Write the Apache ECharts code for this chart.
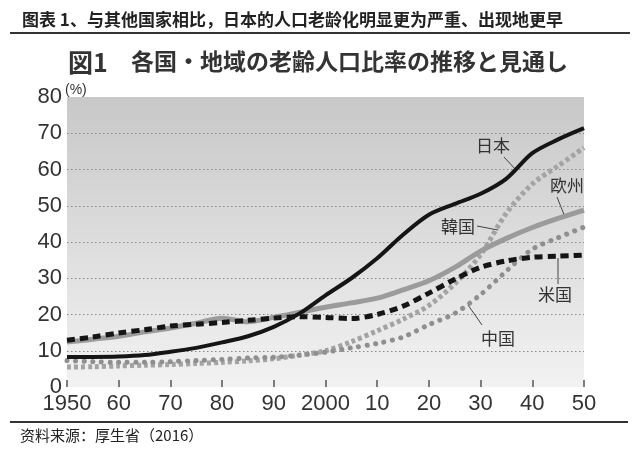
<!DOCTYPE html>
<html><head><meta charset="utf-8">
<script src="https://cdn.jsdelivr.net/npm/echarts@6/dist/echarts.min.js"></script>
<style>html,body{margin:0;padding:0;background:#fff}#c{width:640px;height:451px}</style>
</head><body><div id="c"></div>
<script>
const years = [1950,1955,1960,1965,1970,1975,1980,1985,1990,1995,2000,2005,2010,2015,2020,2025,2030,2035,2040,2045,2050];
const japan  = [8.3,8.3,8.4,8.8,9.7,10.8,12.3,14.0,16.6,20.3,25.3,30.0,35.5,42.0,47.5,50.5,53.3,57.5,64.5,68.3,71.4];
const europe = [12.4,13.2,14.0,15.2,16.3,17.6,19.0,18.0,19.2,20.6,22.0,23.2,24.5,26.8,29.3,33.0,37.5,41.0,44.0,46.5,48.8];
const usa    = [12.9,13.8,14.9,15.8,16.8,17.3,17.8,18.4,19.0,19.4,19.2,18.9,20.0,22.3,25.9,29.7,33.0,34.8,35.8,36.1,36.4];
const korea  = [5.5,5.6,5.8,6.0,6.2,6.5,6.8,7.2,7.8,8.8,10.0,12.5,15.5,18.7,22.5,28.5,36.5,48.0,56.0,61.0,66.0];
const china  = [7.3,7.0,6.8,6.8,7.0,7.3,7.6,8.0,8.2,8.8,9.6,10.8,12.0,13.8,17.2,20.3,25.5,32.0,38.0,41.2,44.1];
const xTickValues = [1950,1960,1970,1980,1990,2000,2010,2020,2030,2040,2050];
const xTickLabels = ['1950','60','70','80','90','2000','10','20','30','40','50'];
const yTickLabels = ['0','10','20','30','40','50','60','70','80'];
const seriesNames = ['日本','欧州','米国','韓国','中国'];

const pair = arr => years.map((y,i)=>[y,arr[i]]);
const chart = echarts.init(document.getElementById('c'), null, {renderer:'canvas'});
const lbl = {fontFamily:'"Noto Sans CJK JP"', fontSize:17, fill:'#333'};
const ln = {stroke:'#444', lineWidth:1};
chart.setOption({
  animation:false,
  backgroundColor:'#fff',
  grid:{left:67,right:56,top:97,bottom:64,show:true,borderWidth:0,
    backgroundColor:{type:'linear',x:0,y:0,x2:0,y2:1,colorStops:[{offset:0,color:'#c8c8c8'},{offset:1,color:'#f2f2f2'}]}},
  xAxis:{type:'value',min:1950,max:2050,interval:10,
    axisLine:{show:false},
    axisTick:{show:true,inside:true,length:7,lineStyle:{color:'#555',width:1.5}},
    splitLine:{show:false},
    axisLabel:{margin:6,color:'#333',fontSize:22,fontFamily:'"Liberation Sans", Arial',
      formatter:v=>{const i=xTickValues.indexOf(v);return i>=0?xTickLabels[i]:'';}}},
  yAxis:{type:'value',min:0,max:80,interval:10,
    axisLine:{show:false},axisTick:{show:false},
    splitLine:{show:true,showMinLine:false,showMaxLine:false,lineStyle:{color:'#8a8a8a',type:[1.5,2.5],width:1}},
    axisLabel:{margin:5,color:'#333',fontSize:22,fontFamily:'"Liberation Sans", Arial',
      formatter:v=>yTickLabels[Math.round(v/10)]}},
  series:[
    {name:seriesNames[3],type:'line',data:pair(korea),smooth:0.3,symbol:'none',
      lineStyle:{color:'#a3a3a3',width:5,type:[4,3]}},
    {name:seriesNames[4],type:'line',data:pair(china),smooth:0.3,symbol:'none',
      lineStyle:{color:'#8f8f8f',width:5,type:[0.1,8.5],cap:'round'}},
    {name:seriesNames[1],type:'line',data:pair(europe),smooth:0.3,symbol:'none',
      lineStyle:{color:'#9b9b9b',width:5}},
    {name:seriesNames[2],type:'line',data:pair(usa),smooth:0.3,symbol:'none',
      lineStyle:{color:'#151515',width:5,type:[8,5]}},
    {name:seriesNames[0],type:'line',data:pair(japan),smooth:0.3,symbol:'none',
      lineStyle:{color:'#151515',width:4}}
  ],
  graphic:[
    {type:'text',left:22,top:11,style:{text:'图表 1、与其他国家相比，日本的人口老龄化明显更为严重、出现地更早',fontFamily:'"Noto Sans CJK SC"',fontSize:17,fill:'#222',fontWeight:'bold'}},
    {type:'line',shape:{x1:10,y1:33,x2:630,y2:33},style:{stroke:'#333',lineWidth:2}},
    {type:'text',left:68,top:50,style:{text:'図1',fontFamily:'"Noto Sans CJK JP"',fontSize:25,fontWeight:'bold',fill:'#333'}},
    {type:'text',left:131,top:50,style:{text:'各国・地域の老齢人口比率の推移と見通し',fontFamily:'"Noto Sans CJK JP"',fontSize:23,fontWeight:'bold',fill:'#333'}},
    {type:'text',left:65,top:83,style:{text:'(%)',fontFamily:'"Liberation Sans", Arial',fontSize:14,fill:'#333'}},
    {type:'text',x:493,y:146,style:Object.assign({text:seriesNames[0],align:'center',verticalAlign:'middle'},lbl)},
    {type:'line',shape:{x1:504,y1:157,x2:516,y2:170},style:ln},
    {type:'text',x:567,y:186,style:Object.assign({text:seriesNames[1],align:'center',verticalAlign:'middle'},lbl)},
    {type:'line',shape:{x1:557,y1:197,x2:565,y2:217},style:ln},
    {type:'text',x:458,y:227,style:Object.assign({text:seriesNames[3],align:'center',verticalAlign:'middle'},lbl)},
    {type:'line',shape:{x1:477,y1:226,x2:498,y2:230},style:ln},
    {type:'text',x:555,y:295,style:Object.assign({text:seriesNames[2],align:'center',verticalAlign:'middle'},lbl)},
    {type:'line',shape:{x1:558,y1:258,x2:558,y2:284},style:ln},
    {type:'text',x:498,y:339,style:Object.assign({text:seriesNames[4],align:'center',verticalAlign:'middle'},lbl)},
    {type:'line',shape:{x1:468,y1:305,x2:482,y2:325},style:ln},
    {type:'line',shape:{x1:10,y1:422,x2:628,y2:422},style:{stroke:'#333',lineWidth:2}},
    {type:'text',left:20,top:428,style:{text:'资料来源：厚生省（2016）',fontFamily:'"Noto Sans CJK SC"',fontSize:15,fill:'#222'}}
  ]
});
</script></body></html>
